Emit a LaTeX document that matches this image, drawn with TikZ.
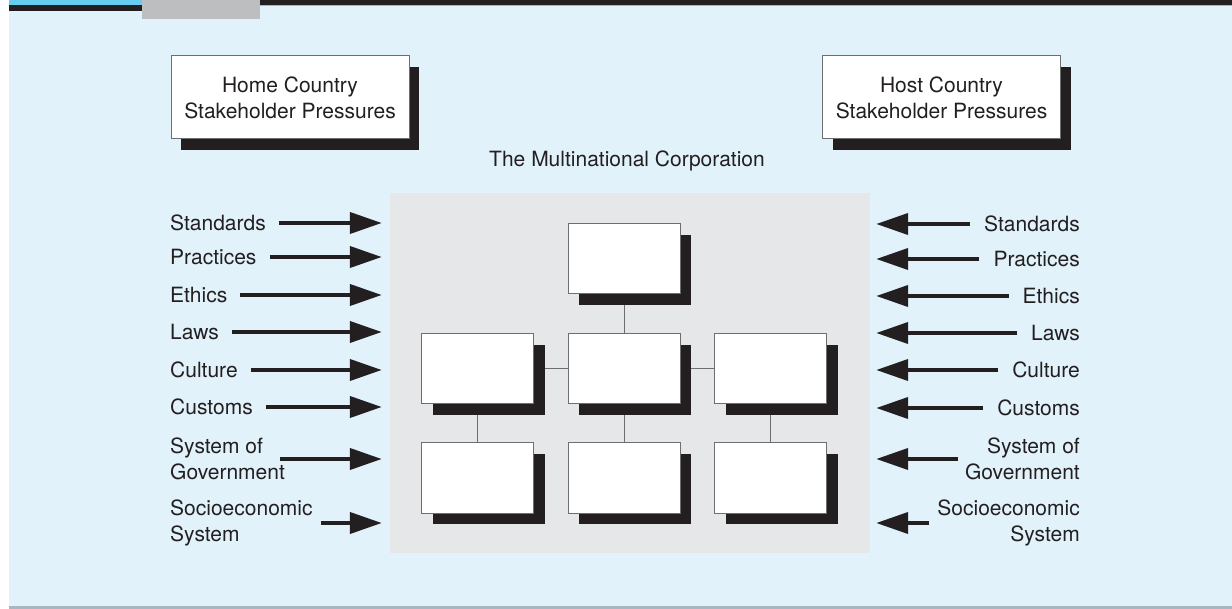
\documentclass[tikz,border=0pt]{standalone}
\usepackage{fontspec}
\setmainfont{TeX Gyre Heros}
\usetikzlibrary{arrows.meta,shadows,backgrounds}
\definecolor{skybg}{HTML}{E1F2FB}
\definecolor{panelgray}{HTML}{E5E7E9}
\definecolor{inkdark}{HTML}{231F20}
\definecolor{bandcyan}{HTML}{66CCF0}
\definecolor{tabgray}{HTML}{BCBEC0}
\definecolor{edgegray}{HTML}{6D6E71}
\definecolor{rulegray}{HTML}{A9B7C2}
\begin{document}
\begin{tikzpicture}[x=1pt,y=-1pt,
  txt/.style={font=\fontsize{21}{26}\selectfont, text=inkdark, inner sep=0pt},
  stakebox/.style={txt, draw=edgegray, line width=1pt, fill=white, align=center,
    minimum width=238pt, minimum height=83pt,
    drop shadow={shadow xshift=10pt, shadow yshift=-11pt, fill=inkdark, opacity=1}},
  orgbox/.style={draw=edgegray, line width=1pt, fill=white, inner sep=0pt,
    minimum width=112pt, minimum height=70pt,
    drop shadow={shadow xshift=11pt, shadow yshift=-11pt, fill=inkdark, opacity=1}},
  link/.style={draw=edgegray, line width=1pt},
  push/.style={inkdark, line width=4pt, -{Triangle[length=32pt,width=21pt]}},
  lbl/.style={txt, align=left, anchor=west},
  rlbl/.style={txt, align=right, anchor=east}]
\useasboundingbox (0,0) rectangle (1232,609);

% backdrop and the corporation panel
\begin{scope}[on background layer]
\fill[skybg] (9,0) rectangle (1232,606);
\fill[bandcyan] (9,0) rectangle (142,5);
\fill[inkdark] (9,5) rectangle (142,11);
\fill[inkdark] (260,0) rectangle (1232,5);
\fill[bandcyan] (260,5) rectangle (1232,5.8);
\fill[tabgray] (142,0) rectangle (260,19);
\fill[rulegray] (9,606) rectangle (1232,609);
\node[fill=panelgray, inner sep=0pt, minimum width=480pt, minimum height=360pt] (corp) at (630,373) {};
\end{scope}
\coordinate (inL) at ([xshift=-8pt]corp.west);
\coordinate (inR) at ([xshift=6pt]corp.east);

\node[stakebox] (home) at (290,97.5) {Home Country\\Stakeholder Pressures};
\node[stakebox] (host) at (941.5,97.5) {Host Country\\Stakeholder Pressures};
\node[txt] (corptitle) at (627,161) {The Multinational Corporation};

% org chart
\node[orgbox] (ceo) at (624,259) {};
\node[orgbox] (midL) at (477.5,369) {};
\node[orgbox] (midC) at (624,369) {};
\node[orgbox] (midR) at (770.5,369) {};
\node[orgbox] (lowL) at (477.5,478) {};
\node[orgbox] (lowC) at (624,478) {};
\node[orgbox] (lowR) at (770.5,478) {};
\begin{scope}[on background layer]
\draw[link] (ceo) -- (midC);
\draw[link] (midL) -- (midC);
\draw[link] (midC) -- (midR);
\draw[link] (midL) -- (lowL);
\draw[link] (midC) -- (lowC);
\draw[link] (midR) -- (lowR);
\end{scope}

% home country pressures
\node[lbl] (hStd) at (170,223) {Standards};
\node[lbl] (hPra) at (170,257) {Practices};
\node[lbl] (hEth) at (170,295) {Ethics};
\node[lbl] (hLaw) at (170,332) {Laws};
\node[lbl] (hCul) at (170,370) {Culture};
\node[lbl] (hCus) at (170,407) {Customs};
\node[lbl] (hGov) at (170,459) {System of\\Government};
\node[lbl] (hSoc) at (170,523) {Socioeconomic\\System};
\foreach \n in {hStd,hPra,hEth,hLaw,hCul,hCus}
  \draw[push] ([xshift=13pt]\n.east) -- (\n.east -| inL);
\draw[push] ([xshift=-5pt]hGov.east) -- (hGov.east -| inL);
\draw[push] ([xshift=8pt]hSoc.east) -- (hSoc.east -| inL);

% host country pressures
\node[rlbl] (sStd) at (1080,224) {Standards};
\node[rlbl] (sPra) at (1080,259) {Practices};
\node[rlbl] (sEth) at (1080,296) {Ethics};
\node[rlbl] (sLaw) at (1080,333) {Laws};
\node[rlbl] (sCul) at (1080,370) {Culture};
\node[rlbl] (sCus) at (1080,408) {Customs};
\node[rlbl] (sGov) at (1080,459) {System of\\Government};
\node[rlbl] (sSoc) at (1080,523) {Socioeconomic\\System};
\foreach \n in {sStd,sPra,sEth,sLaw,sCul,sCus}
  \draw[push] ([xshift=-14pt]\n.west) -- (\n.west -| inR);
\draw[push] ([xshift=-7pt]sGov.west) -- (sGov.west -| inR);
\draw[push] ([xshift=-8pt]sSoc.west) -- (sSoc.west -| inR);
\end{tikzpicture}
\end{document}
